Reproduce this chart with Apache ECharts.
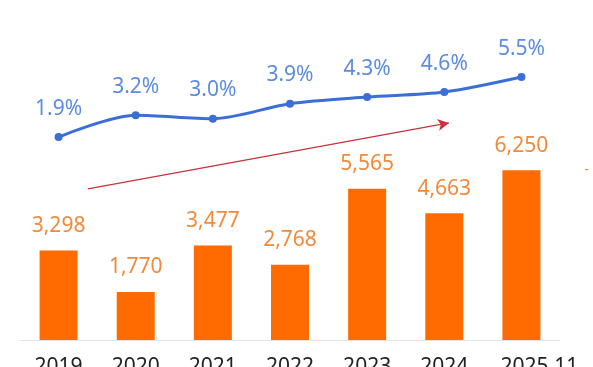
<!DOCTYPE html>
<html><head><meta charset="utf-8">
<script src="https://cdn.jsdelivr.net/npm/echarts@6/dist/echarts.min.js"></script>
<style>html,body{margin:0;padding:0;background:#fff}#c{width:593px;height:367px}</style>
</head><body><div id="c"></div>
<script>
var categories = ['2019','2020','2021','2022','2023','2024','2025.11'];
var barValues = [3298, 1770, 3477, 2768, 5565, 4663, 6250];
var rateValues = [1.9, 3.2, 3.0, 3.9, 4.3, 4.6, 5.5];
// trend arrow endpoints in data space: [category position, bar-axis value]
var arrowStart = [0.38, 5560];
var arrowEnd = [5.06, 7990];

var chart = echarts.init(document.getElementById('c'));
var font = 'Noto Sans';
var catData = categories.map(function(c, i){
  if (i === categories.length - 1) return {value: c, textStyle: {padding: [0,0,0,36]}};
  return c;
});
chart.setOption({
  animation: false,
  grid: [
    {left: 20, right: 33, top: 14, bottom: 27, containLabel: false, outerBoundsMode: 'none'},
    {left: 20, right: 33, top: 68.7, bottom: 198.3, containLabel: false, outerBoundsMode: 'none'}
  ],
  xAxis: [
    {type: 'category', gridIndex: 0, data: catData,
     axisLine: {lineStyle: {color: '#e6e6e6', width: 1}},
     axisTick: {show: false},
     axisLabel: {color: '#222', fontSize: 21, fontFamily: font, margin: 17, interval: 0}},
    {type: 'category', gridIndex: 1, data: categories, show: false},
    {type: 'value', gridIndex: 0, min: -0.5, max: 6.5, show: false}
  ],
  yAxis: [
    {type: 'value', gridIndex: 0, min: 0, max: 12000, show: false, splitLine: {show: false}},
    {type: 'value', gridIndex: 1, min: 0, max: 6, show: false, splitLine: {show: false}}
  ],
  series: [
    {type: 'bar', xAxisIndex: 0, yAxisIndex: 0, data: barValues, barWidth: 38,
     itemStyle: {color: '#FF6B00'},
     label: {show: true, position: 'top', distance: 14, color: '#F28A3C', fontSize: 21, fontFamily: font,
       formatter: function(p){ return p.value.toLocaleString('en-US'); }}},
    {type: 'line', xAxisIndex: 1, yAxisIndex: 1, data: rateValues, smooth: 0.3,
     symbol: 'circle', symbolSize: 8,
     lineStyle: {color: '#3B6FD6', width: 3},
     itemStyle: {color: '#3B6FD6'},
     label: {show: true, position: 'top', distance: 14, color: '#5C8CE0', fontSize: 21, fontFamily: font,
       formatter: function(p){ return p.value.toFixed(1) + '%'; }}},
    {type: 'scatter', xAxisIndex: 2, yAxisIndex: 0, data: [], silent: true,
     markLine: {silent: true, symbol: ['none', 'arrow'], symbolSize: [9, 11],
       label: {show: false},
       lineStyle: {color: '#C8323C', width: 1.2, type: 'solid'},
       data: [[{coord: arrowStart}, {coord: arrowEnd}]]}}
  ],
  graphic: [
    {type: 'text', right: 4, top: 163, style: {text: '-', fill: '#F28A3C', fontSize: 14, fontFamily: font}}
  ]
});
</script></body></html>
